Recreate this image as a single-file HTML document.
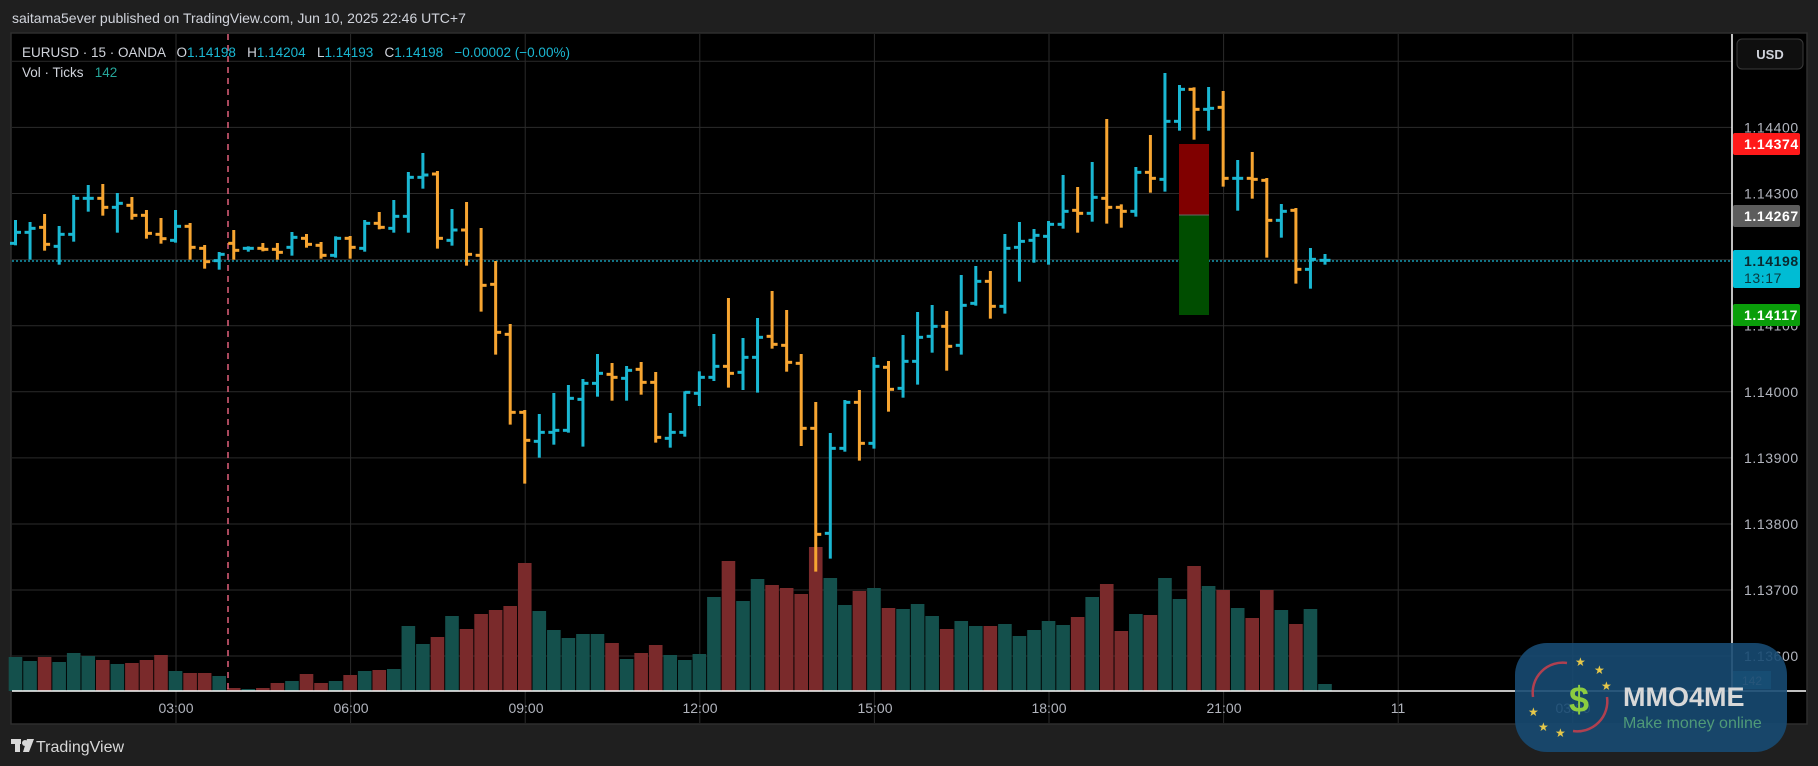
<!DOCTYPE html>
<html><head><meta charset="utf-8">
<style>
html,body{margin:0;padding:0;background:#1f1f1f;}
svg{display:block;}
text{font-family:"Liberation Sans","DejaVu Sans",sans-serif;white-space:pre;}
</style></head>
<body>
<svg id="s" width="1818" height="766" viewBox="0 0 1818 766" xmlns="http://www.w3.org/2000/svg" xml:space="preserve">
<rect x="0" y="0" width="1818" height="766" fill="#1f1f1f"/>
<text x="12" y="23" font-size="14" fill="#d1d4dc">saitama5ever published on TradingView.com, Jun 10, 2025 22:46 UTC+7</text>
<rect x="11" y="33" width="1796" height="691" fill="#000" stroke="#2e2e2e" stroke-width="1.5"/>
<g id="grid" stroke="#2b2b2b" stroke-width="1"></g>
<g id="vol"></g>
<line x1="228" y1="34" x2="228" y2="691" stroke="#e0607a" stroke-width="1.5" stroke-dasharray="6,5"/>
<line x1="12" y1="261" x2="1732" y2="261" stroke="#1ab7d2" stroke-width="1.3" stroke-dasharray="2,2"/>
<rect x="1179" y="144" width="30" height="71" fill="#800000"/>
<rect x="1179" y="215" width="30" height="100" fill="#004d00"/>
<line x1="1179" y1="215" x2="1209" y2="215" stroke="#666" stroke-width="1"/>
<g id="bars" stroke-width="3" fill="none"></g>
<line x1="12" y1="691" x2="1806" y2="691" stroke="#fff" stroke-width="1.5"/>
<line x1="1732" y1="34" x2="1732" y2="691" stroke="#fff" stroke-width="1.5"/>
<g id="axis" font-size="14" fill="#b2b5be" letter-spacing="0.6"></g>
<text x="22" y="57" font-size="13.5" fill="#d1d4dc">EURUSD · 15 · OANDA   O<tspan fill="#1ab7d2">1.14198</tspan>   H<tspan fill="#1ab7d2">1.14204</tspan>   L<tspan fill="#1ab7d2">1.14193</tspan>   C<tspan fill="#1ab7d2">1.14198</tspan>   <tspan fill="#1ab7d2">−0.00002 (−0.00%)</tspan></text>
<text x="22" y="77" font-size="13.5" fill="#d1d4dc">Vol · Ticks   <tspan fill="#26a69a">142</tspan></text>
<rect x="1737" y="39" width="66" height="30" rx="5" fill="#0f0f0f" stroke="#3a3a3a"/>
<text x="1770" y="59" font-size="13" fill="#d1d4dc" text-anchor="middle" font-weight="bold">USD</text>
<rect x="1733" y="133" width="67" height="22" rx="2" fill="#ff1a1a"/>
<text x="1744" y="149" font-size="14" fill="#fff" letter-spacing="0.6" font-weight="bold">1.14374</text>
<rect x="1733" y="205" width="67" height="22" rx="2" fill="#5d5d5d"/>
<text x="1744" y="221" font-size="14" fill="#fff" letter-spacing="0.6" font-weight="bold">1.14267</text>
<rect x="1733" y="250" width="67" height="38" rx="2" fill="#00bcd4"/>
<text x="1744" y="266" font-size="14" fill="#0a2a30" letter-spacing="0.6" font-weight="bold">1.14198</text>
<text x="1744" y="283" font-size="14" fill="#0a3a40" letter-spacing="0.6">13:17</text>
<rect x="1733" y="304" width="67" height="22" rx="2" fill="#0a9e0a"/>
<text x="1744" y="320" font-size="14" fill="#fff" letter-spacing="0.6" font-weight="bold">1.14117</text>
<rect x="1733" y="671" width="38" height="18" fill="#1a6a78"/>
<text x="1752" y="685" font-size="12" fill="#b2b5be" text-anchor="middle">142</text>
<g font-size="14" fill="#b2b5be" text-anchor="middle">
<text x="176" y="713">03:00</text><text x="351" y="713">06:00</text><text x="526" y="713">09:00</text>
<text x="700" y="713">12:00</text><text x="875" y="713">15:00</text><text x="1049" y="713">18:00</text>
<text x="1224" y="713">21:00</text><text x="1398" y="713">11</text><text x="1573" y="713">03:00</text>
</g>
<g fill="#d8d8d8"><rect x="11" y="739" width="10" height="5"/><rect x="15" y="739" width="5" height="13"/><circle cx="25" cy="743" r="3"/><polygon points="27,739 34,739 29,752 23,752"/></g>
<text x="36" y="752" font-size="16" fill="#d8d8d8">TradingView</text>
<rect x="1515" y="643" width="272" height="109" rx="32" fill="#174a72" fill-opacity="0.9"/>
<path d="M1567,663 A30,30 0 0 0 1533,697" stroke="#b04050" stroke-width="2.5" fill="none"/>
<path d="M1573,731 A30,30 0 0 0 1607,697" stroke="#b04050" stroke-width="2.5" fill="none"/>
<text x="1569" y="712" font-size="36" font-weight="bold" fill="#8ccc40">$</text>
<g fill="#e6c84a" font-size="12"><text x="1575" y="666">★</text><text x="1594" y="674">★</text><text x="1601" y="690">★</text><text x="1528" y="716">★</text><text x="1538" y="731">★</text><text x="1555" y="737">★</text></g>
<text x="1623" y="706" font-size="27" font-weight="bold" fill="#d8d8d8">MMO4ME</text>
<text x="1623" y="728" font-size="16" fill="#4f9a78">Make money online</text>
</svg>
<script>
var NS="http://www.w3.org/2000/svg";
function el(p,t,a){var e=document.createElementNS(NS,t);for(var k in a)e.setAttribute(k,a[k]);document.getElementById(p).appendChild(e);return e;}
[61.3,127.4,193.5,259.6,325.7,391.8,457.9,524,590,656].forEach(function(y){el("grid","line",{x1:12,x2:1732,y1:y,y2:y});});
for(var k=0;k<9;k++){var x=176+k*174.6;el("grid","line",{x1:x,x2:x,y1:34,y2:723});}
var labs=[["1.14400",127.4],["1.14300",193.5],["1.14100",325.7],["1.14000",391.8],["1.13900",457.9],["1.13800",524],["1.13700",590],["1.13600",656]];
labs.forEach(function(l){var t=el("axis","text",{x:1744,y:l[1]+5});t.textContent=l[0];});
var z3=[[243,313,310,277],[249,356,277,265],[225,329,262,313],[261,371,319,283],[168,302,283,175],[138,212,175,175],[135,224,175,202],[162,275,202,190],[174,236,196,226],[213,293,226,280],[237,308,283,296],[213,305,301,259],[252,356,259,322],[318,383,325,365],[339,386,362,343],[273,356,310,331],[322,332,325,325],[312,331,325,328],[312,356,328,337],[279,344,322,292],[285,320,295,313],[309,353,316,346],[292,350,346,295],
[291,353,295,322],[243,332,325,250],[219,265,250,262],[183,275,265,229],[99,275,229,112],[42,143,112,105],[96,323,102,295],[210,314,301,270],[189,374,270,343],[267,512,346,436],[366,641,433,577],[555,851,583,817],[813,1028,817,901],[825,950,904,877],[762,911,877,871],[738,875,871,775],[720,917,778,730],[645,767,730,700],[672,779,703,712],[681,779,715,691],[669,761,688,727],[699,905,727,892],[822,920,895,877]];
var z5=[[517,647,637,517],[457,555,520,472],[345,480,472,439],[237,500,439,460],[357,507,457,412],[297,515,412,352],[216,383,349,373],[273,452,376,427],[405,675,430,625],[549,1052,625,943],[642,1013,940,685],[543,692,685,547],[513,719,547,670],[414,683,670,439],[426,572,442,508],[348,530,505,424],[279,491,424,352],[258,395,349,319],[276,449,319,379],[168,401,376,256],[141,254,250,184],[156,293,184,259],[45,278,259,85]];
var z6=[[489,662,562,544],[510,605,541,526],[486,611,529,493],[348,503,493,454],[384,515,451,460],[309,482,460,412],[180,488,415,442],[436,500,442,454],[324,467,454,337],[228,395,337,355],[42,392,358,184],[78,209,184,88],[85,236,88,148],[84,209,148,145],[96,377,142,355],[303,449,355,355],[279,413,355,358],[357,590,361,481],[435,530,481,454],[447,668,451,628],[567,683,628,598],[585,611,601,601]];
var bars=[];
z3.forEach(function(b){bars.push(b.map(function(v){return 140+v/3;}));});
z5.forEach(function(b){bars.push(b.map(function(v){return 220+v/3;}));});
z6.forEach(function(b){bars.push(b.map(function(v){return 60+v/3;}));});
bars.forEach(function(b,i){
 var x=15.5+i*14.55, up=b[3]<=b[2], c=up?"#1ab7d2":"#f7a531";
 el("bars","line",{x1:x,x2:x,y1:b[0]-1,y2:b[1]+1,stroke:c});
 el("bars","line",{x1:x-5.5,x2:x,y1:b[2],y2:b[2],stroke:c});
 el("bars","line",{x1:x,x2:x+5.5,y1:b[3],y2:b[3],stroke:c});
});
var v1="306g318g306r321g294g303g315r327g324r315r300r348g354r354r363g399r402g399r384r378g357r384r378g360r348g345r342g213g267g246r183g222r177r165r153r24r168g225g249g237g237g264r312g294r270r300g";
var v2="315g297g126g18r138g72g90r99r117r-24r69g150g108r99g159r162g147g183g222r198g213g213r207g243g225g198g210g186r126g87r228r177g180r69g132g33r93g105r159g189r105r165g207r162g387g";
function parse(s){var out=[],re=/(-?\d+)([gr])/g,m;while(m=re.exec(s))out.push([+m[1],m[2]]);return out;}
var vols=parse(v1).concat(parse(v2));
vols.forEach(function(v,i){
 var x=15.5+i*14.55, top=555+v[0]/3;
 el("vol","rect",{x:x-6.8,y:top,width:13.6,height:691-top,fill:v[1]=="g"?"#14504c":"#7a2a2b"});
});
</script>
</body></html>
